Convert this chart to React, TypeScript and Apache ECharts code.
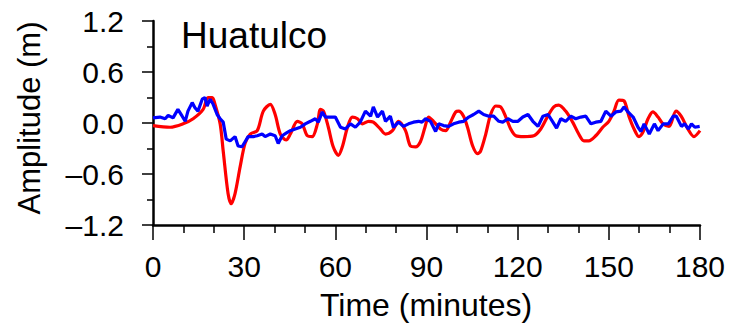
import React, { useEffect, useRef } from "react";
import * as echarts from "echarts";

const FONT = "'Liberation Sans', Arial, Helvetica, sans-serif";

const title = "Huatulco";
const xAxisName = "Time (minutes)";
const yAxisName = "Amplitude (m)";

const redTime = [0, 5.6, 9.9, 13.2, 16.5, 18.1, 19.5, 20.4, 22.1, 23.1, 24.7, 25.7, 27.0, 28.7, 30.3, 32.0, 34.3, 36.3, 38.6, 40.2, 41.9, 43.8, 45.2, 47.5, 49.1, 50.8, 52.4, 54.1, 55.1, 56.1, 57.7, 59.3, 61.0, 62.3, 64.0, 65.6, 67.3, 68.9, 70.9, 72.5, 74.8, 76.5, 78.8, 80.8, 83.1, 84.7, 86.4, 88.0, 89.5, 90.7, 92.3, 94.6, 96.3, 97.9, 99.6, 100.6, 102.2, 103.5, 105.2, 106.8, 107.8, 109.5, 111.1, 112.8, 114.4, 116.1, 117.7, 119.4, 122.0, 125.3, 127.6, 129.9, 131.9, 133.5, 135.8, 138.1, 140.1, 141.8, 143.4, 145.7, 148.0, 150.0, 151.7, 153.3, 155.0, 156.6, 158.3, 159.9, 161.2, 162.9, 164.5, 166.2, 167.8, 169.8, 172.1, 173.8, 176.0, 178.0, 180.0];
const redAmp = [-0.03, -0.05, -0.01, 0.05, 0.16, 0.30, 0.30, 0.22, -0.01, -0.33, -0.83, -0.95, -0.83, -0.51, -0.24, -0.13, -0.09, 0.14, 0.22, 0.10, -0.13, -0.20, -0.13, 0.02, -0.01, -0.15, -0.16, -0.01, 0.16, 0.14, -0.05, -0.28, -0.38, -0.28, -0.05, 0.07, 0.05, -0.01, 0.02, 0.01, -0.07, -0.13, -0.09, 0.02, -0.09, -0.27, -0.28, -0.22, -0.05, 0.07, 0.02, -0.07, -0.09, 0.01, 0.13, 0.14, 0.08, -0.05, -0.27, -0.36, -0.33, -0.13, 0.10, 0.20, 0.19, 0.07, -0.07, -0.15, -0.16, -0.15, -0.07, 0.08, 0.19, 0.21, 0.14, 0.01, -0.13, -0.21, -0.21, -0.15, -0.05, 0.02, 0.14, 0.27, 0.26, 0.08, -0.07, -0.16, -0.11, 0.05, 0.13, 0.07, -0.01, -0.04, 0.14, 0.08, -0.07, -0.16, -0.09];

const blueTime = [0, 2.3, 4.0, 5.0, 6.6, 8.2, 9.6, 10.6, 11.5, 12.9, 13.8, 14.8, 16.2, 17.1, 17.8, 18.8, 19.8, 21.1, 22.1, 23.1, 24.1, 25.4, 27.0, 28.0, 29.3, 30.3, 31.3, 33.0, 34.3, 35.9, 36.9, 38.6, 40.2, 41.2, 42.5, 43.8, 45.2, 46.8, 48.5, 50.1, 51.8, 53.4, 54.4, 55.7, 56.7, 58.4, 60.0, 61.7, 63.3, 65.0, 66.6, 68.2, 69.9, 71.6, 72.5, 73.9, 75.5, 76.5, 78.1, 79.1, 80.8, 82.4, 84.1, 85.7, 87.4, 88.5, 89.7, 91.3, 93.0, 94.0, 95.6, 97.3, 98.9, 100.6, 102.2, 103.9, 105.5, 107.2, 108.8, 110.5, 112.1, 113.8, 115.1, 116.8, 118.4, 120.1, 121.7, 123.4, 125.0, 126.7, 128.3, 130.0, 131.6, 132.8, 134.2, 135.8, 137.5, 139.1, 140.8, 142.4, 144.1, 145.7, 147.4, 149.0, 150.7, 152.3, 154.0, 155.0, 156.3, 158.0, 159.6, 160.6, 161.6, 163.3, 165.0, 166.2, 167.9, 169.6, 171.2, 172.2, 173.9, 174.9, 176.2, 177.2, 178.3, 179.9];
const blueAmp = [0.06, 0.07, 0.05, 0.09, 0.06, 0.16, 0.08, 0.02, 0.14, 0.24, 0.18, 0.14, 0.28, 0.30, 0.20, 0.28, 0.22, 0.10, 0.05, 0.01, -0.19, -0.21, -0.16, -0.27, -0.28, -0.22, -0.16, -0.16, -0.15, -0.13, -0.16, -0.13, -0.15, -0.24, -0.15, -0.12, -0.09, -0.07, -0.05, -0.01, 0.02, 0.05, 0.01, 0.13, 0.07, 0.07, 0.07, -0.05, -0.07, -0.01, -0.05, 0.01, 0.14, 0.08, 0.19, 0.07, 0.14, 0.02, 0.08, -0.05, 0.01, -0.04, -0.01, 0.01, 0.02, 0.01, 0.05, 0.02, -0.10, -0.01, -0.03, -0.04, -0.01, 0.01, 0.02, 0.07, 0.10, 0.14, 0.10, 0.08, 0.08, 0.02, 0.01, 0.05, 0.02, 0.02, 0.07, 0.10, 0.02, -0.04, 0.08, 0.10, 0.01, -0.06, 0.05, 0.02, 0.08, 0.05, 0.07, 0.08, -0.01, 0.01, 0.02, 0.14, 0.08, 0.13, 0.14, 0.19, 0.13, 0.07, -0.05, -0.10, -0.01, -0.13, -0.01, -0.09, -0.01, -0.01, 0.08, 0.08, -0.04, -0.01, -0.07, -0.01, -0.05, -0.04];

const xTicks = { min: 0, max: 180, interval: 30 };
const yTicks = { min: -1.2, max: 1.2, interval: 0.6 };

const fmtY = (v: number) => {
  const r = Math.round(v * 10) / 10;
  if (Math.abs(r) < 1e-9) return "0.0";
  return r < 0 ? "\u2013" + Math.abs(r).toFixed(1) : r.toFixed(1);
};

export default function App() {
  const ref = useRef<HTMLDivElement>(null);
  useEffect(() => {
    if (!ref.current) return;
    const chart = echarts.init(ref.current, null, { renderer: "svg" });
    const red = redTime.map((t, i) => [t, redAmp[i]]);
    const blue = blueTime.map((t, i) => [t, blueAmp[i]]);
    chart.setOption({
      animation: false,
      backgroundColor: "#ffffff",
      grid: { left: 153, right: 29, top: 21, bottom: 104, containLabel: false },
      xAxis: {
        type: "value",
        min: xTicks.min,
        max: xTicks.max,
        interval: xTicks.interval,
        axisLine: { show: true, onZero: false, lineStyle: { color: "#000", width: 2.5 } },
        axisTick: { show: true, inside: false, length: 15, lineStyle: { color: "#000", width: 1.5 } },
        minorTick: { show: true, splitNumber: 3, length: 8, lineStyle: { color: "#000", width: 1.5 } },
        splitLine: { show: false },
        axisLabel: { color: "#000", fontFamily: FONT, fontSize: 30, margin: 26 },
      },
      yAxis: {
        type: "value",
        min: yTicks.min,
        max: yTicks.max,
        interval: yTicks.interval,
        axisLine: { show: true, onZero: false, lineStyle: { color: "#000", width: 2.5 } },
        axisTick: { show: true, inside: false, length: 11, lineStyle: { color: "#000", width: 1.5 } },
        minorTick: { show: true, splitNumber: 2, length: 6, lineStyle: { color: "#000", width: 1.5 } },
        splitLine: { show: false },
        axisLabel: { color: "#000", fontFamily: FONT, fontSize: 30, margin: 29, formatter: fmtY },
      },
      graphic: [
        {
          type: "text",
          left: 181,
          top: 17,
          style: { text: title, fill: "#000", font: `37px ${FONT}` },
        },
        {
          type: "text",
          x: 426,
          y: 305,
          style: { text: xAxisName, fill: "#000", font: `32px ${FONT}`, align: "center", verticalAlign: "middle" },
        },
        {
          type: "text",
          x: 29,
          y: 118,
          rotation: Math.PI / 2,
          style: { text: yAxisName, fill: "#000", font: `31px ${FONT}`, align: "center", verticalAlign: "middle" },
        },
      ],
      series: [
        {
          type: "line",
          data: red,
          showSymbol: false,
          smooth: 0.3,
          lineStyle: { color: "#ff0000", width: 3.2 },
          z: 2,
        },
        {
          type: "line",
          data: blue,
          showSymbol: false,
          lineStyle: { color: "#0000ff", width: 3.2 },
          z: 3,
        },
      ],
    });
    return () => chart.dispose();
  }, []);
  return (
    <div
      ref={ref}
      style={{ position: "absolute", left: 0, top: 0, width: 729, height: 329 }}
    />
  );
}
